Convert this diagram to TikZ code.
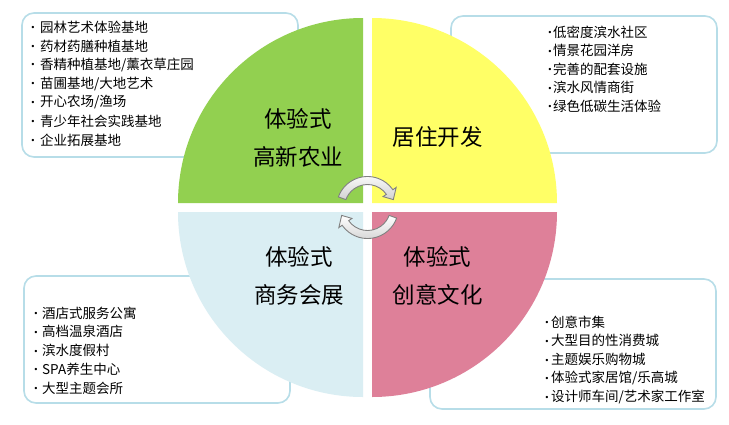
\documentclass[tikz,border=0pt]{standalone}
\usepackage{fontspec}
\newfontfamily\cjk{Noto Sans CJK SC}
\newfontfamily\dvs{DejaVu Sans}
\definecolor{qgreen}{RGB}{146,208,80}
\definecolor{qyellow}{RGB}{255,255,102}
\definecolor{qblue}{RGB}{218,238,243}
\definecolor{qpink}{RGB}{222,128,153}
\definecolor{boxblue}{RGB}{183,221,232}
\definecolor{arrowgray}{RGB}{128,128,128}
\newcommand\bu[1]{\makebox[#1][l]{\raisebox{1.5pt}{\dvs\fontsize{8}{8}\selectfont •}}}
\tikzset{
  listbox/.style={draw=boxblue, line width=1.6pt, fill=white, rounded corners=12pt},
  item/.style={anchor=west, inner sep=0pt, font=\cjk\fontsize{13.5}{16}\selectfont},
  qlabel/.style={align=center, inner sep=0pt, font=\cjk\fontsize{22.5}{38}\selectfont},
  cyc/.style={draw=arrowgray, line width=0.9pt, top color=white, bottom color=black!18}
}
\begin{document}
\begin{tikzpicture}[x=1pt,y=-1pt]
\useasboundingbox[fill=white] (0,0) rectangle (729,424);
% list boxes
\draw[listbox] (22,13) rectangle (298,157);
\draw[listbox] (451,16) rectangle (717,153);
\draw[listbox] (24,276) rectangle (290,403);
\draw[listbox] (430,279) rectangle (716,409);
% quadrants
\fill[qgreen] (363,203) -- (178,203) arc[start angle=180, end angle=270, radius=185] -- cycle;
\fill[qyellow] (372,203) -- (372,18) arc[start angle=270, end angle=360, radius=185] -- cycle;
\fill[qpink] (372,212) -- (557,212) arc[start angle=0, end angle=90, radius=185] -- cycle;
\fill[qblue] (363,212) -- (363,397) arc[start angle=90, end angle=180, radius=185] -- cycle;
% cycle arrows
\begin{scope}[shift={(367.5,207.5)}]
\draw[cyc] (200:31) arc[start angle=200, end angle=325, radius=31] -- (325:35) -- (343:27) -- (325:19) -- (325:23) arc[start angle=325, end angle=200, radius=23] -- cycle;
\draw[cyc] (20:31) arc[start angle=20, end angle=145, radius=31] -- (145:35) -- (163:27) -- (145:19) -- (145:23) arc[start angle=145, end angle=20, radius=23] -- cycle;
\end{scope}
% quadrant labels
\node[qlabel] (q1) at (298,138) {体验式\\高新农业};
\node[qlabel] (q2) at (437.5,137) {居住开发};
\node[qlabel] (q3) at (299,276) {体验式\\商务会展};
\node[qlabel] (q4) at (437.5,276) {体验式\\创意文化};
% list items
\foreach \t [count=\i] in {园林艺术体验基地,药材药膳种植基地,香精种植基地/薰衣草庄园,苗圃基地/大地艺术,开心农场/渔场,青少年社会实践基地,企业拓展基地}
  \node[item] (a\i) at (30.5,{27+(\i-1)*18.85}) {\bu{9.5pt}\t};
\foreach \t [count=\i] in {低密度滨水社区,情景花园洋房,完善的配套设施,滨水风情商街,绿色低碳生活体验}
  \node[item] (b\i) at (547.5,{32+(\i-1)*18.5}) {\bu{5.5pt}\t};
\foreach \t [count=\i] in {酒店式服务公寓,高档温泉酒店,滨水度假村,SPA养生中心,大型主题会所}
  \node[item] (c\i) at (33.5,{313+(\i-1)*18.75}) {\bu{8.5pt}\t};
\foreach \t [count=\i] in {创意市集,大型目的性消费城,主题娱乐购物城,体验式家居馆/乐高城,设计师车间/艺术家工作室}
  \node[item] (d\i) at (544.5,{322+(\i-1)*18.75}) {\bu{6.5pt}\t};
\end{tikzpicture}
\end{document}
